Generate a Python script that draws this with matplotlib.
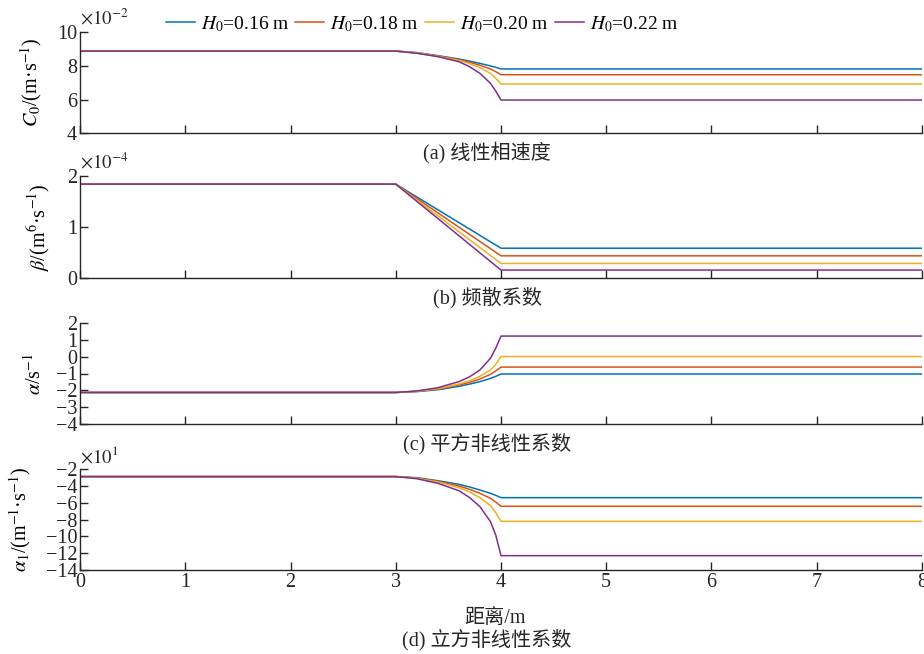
import numpy as np
import matplotlib
matplotlib.use('Agg')
import matplotlib.pyplot as plt

plt.rcParams['font.family'] = ['Liberation Serif', 'Noto Sans CJK SC', 'DejaVu Sans']
plt.rcParams['mathtext.fontset'] = 'stix'
plt.rcParams['axes.unicode_minus'] = True

# 距离 (m)
x = [0, 3, 3.2, 3.4, 3.6, 3.7, 3.8, 3.9, 3.95, 4, 8]
labels = [r'$H_0$=0.16 m', r'$H_0$=0.18 m', r'$H_0$=0.20 m', r'$H_0$=0.22 m']
colors = ['#0072BD', '#D95319', '#EDB120', '#7E2F8E']

# (a) 线性相速度, x1e-2
c0_016 = [8.87, 8.87, 8.78, 8.60, 8.40, 8.28, 8.14, 7.99, 7.91, 7.81, 7.81]
c0_018 = [8.87, 8.87, 8.76, 8.58, 8.36, 8.21, 8.03, 7.81, 7.65, 7.47, 7.47]
c0_020 = [8.87, 8.87, 8.76, 8.56, 8.32, 8.13, 7.89, 7.55, 7.26, 6.92, 6.92]
c0_022 = [8.87, 8.87, 8.74, 8.54, 8.24, 7.95, 7.55, 6.96, 6.50, 5.97, 5.97]

# (b) 频散系数, x1e-4 (linear between 3 and 4)
xb = [0, 3, 4, 8]
beta_016 = [1.84, 1.84, 0.58, 0.58]
beta_018 = [1.84, 1.84, 0.43, 0.43]
beta_020 = [1.84, 1.84, 0.28, 0.28]
beta_022 = [1.84, 1.84, 0.15, 0.15]

# (c) 平方非线性系数
a_016 = [-2.12, -2.12, -2.07, -1.96, -1.76, -1.63, -1.48, -1.29, -1.17, -1.03, -1.03]
a_018 = [-2.12, -2.12, -2.05, -1.92, -1.68, -1.53, -1.33, -1.05, -0.85, -0.62, -0.62]
a_020 = [-2.12, -2.12, -2.05, -1.90, -1.62, -1.43, -1.17, -0.79, -0.46, 0.00, 0.00]
a_022 = [-2.12, -2.12, -2.03, -1.84, -1.48, -1.20, -0.79, -0.10, 0.49, 1.21, 1.21]

# (d) 立方非线性系数, x1e1
a1_016 = [-2.87, -2.87, -3.00, -3.36, -3.79, -4.10, -4.47, -4.86, -5.10, -5.38, -5.38]
a1_018 = [-2.87, -2.87, -3.04, -3.43, -3.99, -4.38, -4.86, -5.46, -5.90, -6.41, -6.41]
a1_020 = [-2.87, -2.87, -3.08, -3.51, -4.19, -4.70, -5.38, -6.33, -7.17, -8.20, -8.20]
a1_022 = [-2.87, -2.87, -3.12, -3.67, -4.55, -5.35, -6.45, -8.24, -9.83, -12.29, -12.29]

panels = [
    (x, [c0_016, c0_018, c0_020, c0_022], (4, 10), [4, 6, 8, 10],
     r'$C_0$/(m·s$^{-1}$)', r'$\times 10^{-2}$', '(a) 线性相速度'),
    (xb, [beta_016, beta_018, beta_020, beta_022], (0, 2), [0, 1, 2],
     r'$\beta$/(m$^6$·s$^{-1}$)', r'$\times 10^{-4}$', '(b) 频散系数'),
    (x, [a_016, a_018, a_020, a_022], (-4, 2), list(range(-4, 3)),
     r'$\alpha$/s$^{-1}$', None, '(c) 平方非线性系数'),
    (x, [a1_016, a1_018, a1_020, a1_022], (-14, -2), list(range(-14, -1, 2)),
     r'$\alpha_1$/(m$^{-1}$·s$^{-1}$)', r'$\times 10^{1}$', '(d) 立方非线性系数'),
]

W, H = 924, 654
fig = plt.figure(figsize=(W / 100, H / 100), dpi=100)
tops = [32, 176, 322.7, 469.3]
bots = [133.3, 277.7, 424.3, 570]
title_y = [153, 298, 444, 640]
ylab_x = [44, 53, 46, 33]   # right edge of rotated y label, px
fs = 14.5

axes = []
for i, (xx, ys, ylim, yticks, ylabel, offs, title) in enumerate(panels):
    ax = fig.add_axes([80 / W, 1 - bots[i] / H, 842 / W, (bots[i] - tops[i]) / H])
    for y, c, lab in zip(ys, colors, labels):
        ax.plot(xx, y, color=c, lw=1.1, label=lab)
    ax.set_xlim(0, 8)
    ax.set_ylim(*ylim)
    ax.set_yticks(yticks)
    ax.set_xticks(range(9))
    ax.spines['top'].set_visible(False)
    ax.spines['right'].set_visible(False)
    for s in ['left', 'bottom']:
        ax.spines[s].set_color('#262626')
        ax.spines[s].set_linewidth(1.0)
    ax.tick_params(direction='in', length=6, width=1, colors='#262626',
                   labelsize=fs, pad=2)
    if i < 3:
        ax.tick_params(axis='x', labelbottom=False)
    ax.set_ylabel(ylabel, fontsize=fs, labelpad=0)
    ax.yaxis.set_label_coords((ylab_x[i] - 80) / 842, 0.5)
    if offs:
        ax.text(0.0, 1.03, offs, transform=ax.transAxes, fontsize=fs - 1,
                ha='left', va='bottom', color='#262626')
    fig.text(487 / W, 1 - title_y[i] / H, title, fontsize=fs, ha='center',
             va='center', color='#262626')
    axes.append(ax)

fig.text(495 / W, 1 - 618 / H, '距离/m', fontsize=fs, ha='center',
         va='center', color='#262626')

h, l = axes[0].get_legend_handles_labels()
fig.legend(h, l, loc='center', bbox_to_anchor=(422 / W, 1 - 24 / H), ncol=4,
           frameon=False, fontsize=14, handlelength=1.5, handletextpad=0.3,
           columnspacing=0.3)

fig.savefig('out.png', dpi=100)
